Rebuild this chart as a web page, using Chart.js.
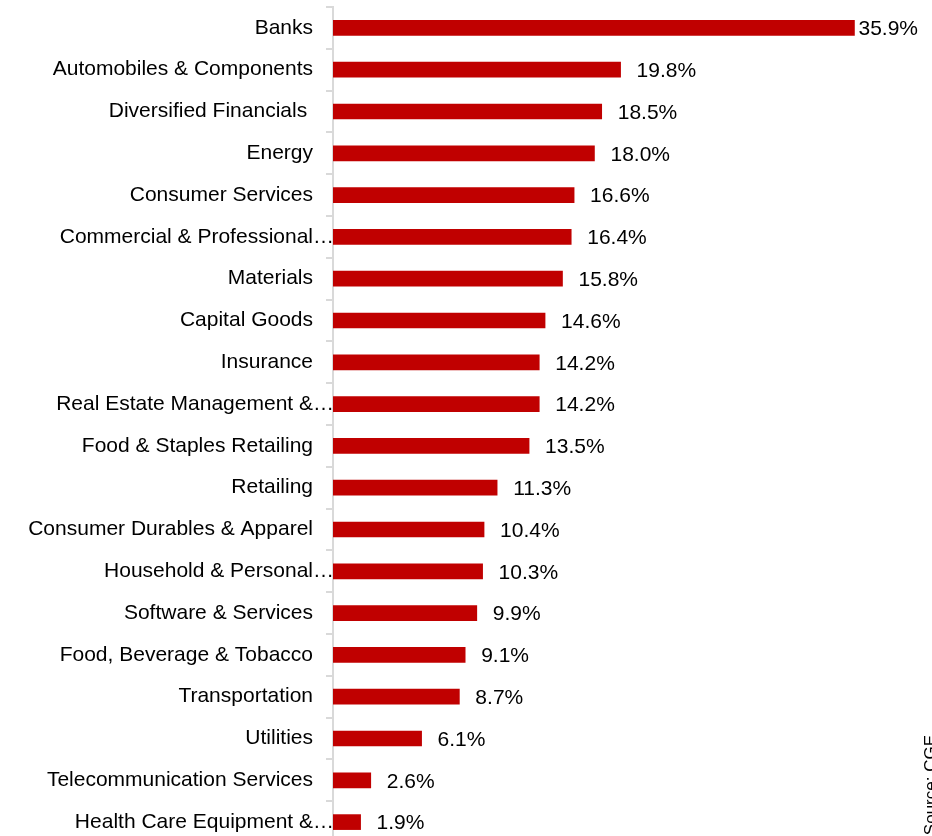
<!DOCTYPE html>
<html>
<head>
<meta charset="utf-8">
<script src="https://cdn.jsdelivr.net/npm/chart.js@4/dist/chart.umd.min.js"></script>
<style>
  html, body { margin: 0; padding: 0; background: #fff; overflow: hidden; }
  #wrap { width: 932px; height: 843px; position: relative; }
</style>
</head>
<body>
<div id="wrap"><canvas id="c" width="932" height="843"></canvas></div>
<script>
const categories = [
  "Banks",
  "Automobiles & Components",
  "Diversified Financials ",
  "Energy",
  "Consumer Services",
  "Commercial & Professional\u2026",
  "Materials",
  "Capital Goods",
  "Insurance",
  "Real Estate Management &\u2026",
  "Food & Staples Retailing",
  "Retailing",
  "Consumer Durables & Apparel",
  "Household & Personal\u2026",
  "Software & Services",
  "Food, Beverage & Tobacco",
  "Transportation",
  "Utilities",
  "Telecommunication Services",
  "Health Care Equipment &\u2026"
];
const values = [35.9, 19.8, 18.5, 18.0, 16.6, 16.4, 15.8, 14.6, 14.2, 14.2, 13.5, 11.3, 10.4, 10.3, 9.9, 9.1, 8.7, 6.1, 2.6, 1.9];
const valueLabels = values.map(v => v.toFixed(1) + "%");
const sourceNote = "Source: CGE";

const FONT = '"Liberation Sans", Arial, sans-serif';
const isTruncated = s => s.endsWith("\u2026");

const labelPlugin = {
  id: 'customLabels',
  afterDatasetsDraw(chart) {
    const ctx = chart.ctx;
    const meta = chart.getDatasetMeta(0);
    const yScale = chart.scales.y;
    ctx.save();
    ctx.font = '21px ' + FONT;
    ctx.fillStyle = '#000';
    ctx.textBaseline = 'middle';
    ctx.textAlign = 'left';
    meta.data.forEach((bar, i) => {
      const txt = valueLabels[i];
      const w = ctx.measureText(txt).width;
      let x = bar.x + 16;
      if (x + w > chart.width - 12) x = bar.x + 4;
      ctx.fillText(txt, x, bar.y + 1.5);
    });
    ctx.textAlign = 'right';
    categories.forEach((c, i) => {
      if (isTruncated(c)) {
        ctx.fillText(c, chart.chartArea.left + 1, yScale.getPixelForValue(i));
      }
    });
    ctx.font = '17px ' + FONT;
    ctx.translate(923, 735);
    ctx.rotate(-Math.PI / 2);
    ctx.textAlign = 'right';
    ctx.textBaseline = 'top';
    ctx.fillText(sourceNote, 0, 0);
    ctx.restore();
  }
};

new Chart(document.getElementById('c'), {
  type: 'bar',
  data: {
    labels: categories,
    datasets: [{
      data: values,
      backgroundColor: '#C00000',
      borderWidth: 0,
      barThickness: 15
    }]
  },
  options: {
    indexAxis: 'y',
    responsive: false,
    animation: false,
    layout: { padding: { top: 7, right: 18, bottom: 0, left: 0 } },
    plugins: { legend: { display: false }, tooltip: { enabled: false } },
    scales: {
      x: { display: false, min: 0, max: 40 },
      y: {
        afterFit(scale) {
          scale.width = 333;
          scale.paddingTop = 0;
          scale.paddingBottom = 0;
        },
        grid: {
          drawOnChartArea: false,
          drawTicks: true,
          tickLength: 7,
          color: '#d9d9d9',
          lineWidth: 2,
          offset: true
        },
        border: { display: true, color: '#d9d9d9', width: 2 },
        ticks: {
          autoSkip: false,
          padding: 13,
          font: { family: FONT, size: 21 },
          color: ctx => isTruncated(categories[ctx.index] || '') ? 'rgba(0,0,0,0)' : '#000'
        }
      }
    }
  },
  plugins: [labelPlugin]
});
</script>
</body>
</html>
